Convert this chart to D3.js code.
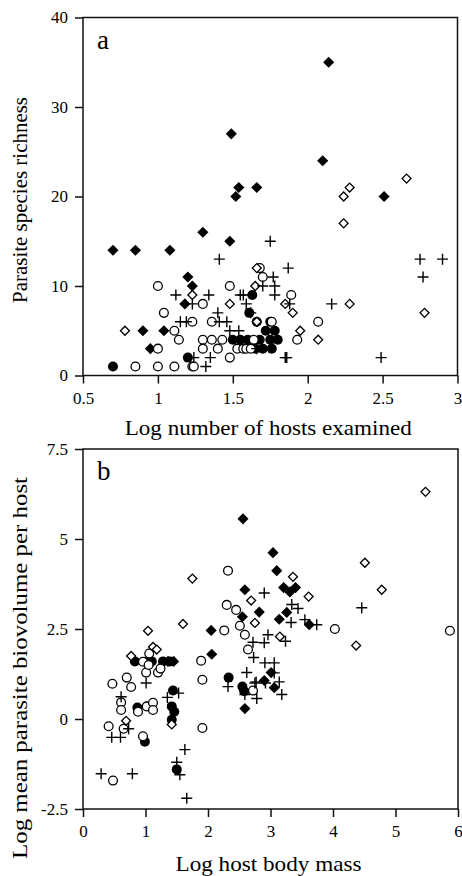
<!DOCTYPE html>
<html>
<head>
<meta charset="utf-8">
<script src="https://cdn.jsdelivr.net/npm/d3@7"></script>
<style>
  body { margin: 0; background: #fff; }
  text { font-family: "Liberation Serif", "Times New Roman", serif; fill: #000; }
</style>
</head>
<body>
<svg id="chart"></svg>
<script>
var width = 462,
    height = 876;

// panel a: log number of hosts examined vs parasite species richness
var filledDiamondA = [[0.70,14],[0.85,14],[1.08,14],[1.30,16],[1.48,15],[1.49,27],[1.54,21],[1.52,20],[1.66,21],
  [2.14,35],[2.10,24],[2.51,20],[1.20,11],[1.23,10],[1.18,8],[0.90,5],[1.04,5],[0.95,3]];
var openDiamondA = [[2.66,22],[2.28,21],[2.24,20],[2.24,17],[2.78,7],[2.28,8],[1.85,8],[1.90,7],[1.95,5],[2.07,4],
  [0.78,5],[1.23,9],[1.48,8],[1.66,12],[1.65,10],[1.66,6]];
var openCircleA = [[1.00,10],[1.04,7],[1.30,8],[1.23,6],[1.11,5],[1.14,4],[1.00,3],[0.85,1],[1.00,1],[1.11,1],
  [1.23,1],[1.24,1],[1.30,4],[1.30,3],[1.36,6],[1.40,3],[1.36,4],[1.43,4],[1.48,10],[1.48,2],[1.53,3],[1.57,3],
  [1.59,3],[1.68,12],[1.70,11],[1.89,9],[2.07,6],[1.93,4],[1.76,6],[1.64,4],[1.62,3]];
var filledCircleA = [[0.70,1],[1.20,2],[1.50,4],[1.55,4],[1.60,4],[1.63,9],[1.61,7],[1.66,6],[1.75,6],[1.72,5],
  [1.78,5],[1.68,4],[1.75,4],[1.80,4],[1.70,3],[1.76,3],[1.65,3]];
var plusA = [[1.75,15],[2.75,13],[2.90,13],[2.77,11],[2.49,2],[1.87,12],[2.16,8],[1.88,8],[1.86,2],[1.77,11],
  [1.78,10],[1.70,10],[1.78,9],[1.12,9],[1.23,8],[1.34,9],[1.41,13],[1.15,6],[1.19,6],[1.40,7],[1.41,6],[1.46,6],
  [1.48,5],[1.54,5],[1.55,9],[1.57,9],[1.59,8],[1.62,7],[1.24,2],[1.32,1],[1.35,2],[1.66,3],[1.85,2]];

// panel b: log host body mass vs log mean parasite biovolume per host
var filledDiamondB = [[2.56,5.56],[2.59,3.59],[2.55,2.84],[2.82,2.97],[2.05,2.46],[2.06,1.80],[2.59,0.29],
  [3.04,4.62],[3.10,4.12],[3.21,3.65],[3.31,3.53],[3.40,3.65],[3.26,2.96],[3.14,2.77],[3.62,2.62],[3.01,1.29],
  [2.90,1.07],[3.06,0.87],[1.45,1.60],[1.36,1.60]];
var openDiamondB = [[5.48,6.31],[4.51,4.34],[4.78,3.59],[1.75,3.90],[2.69,3.29],[2.75,2.67],[1.04,2.45],[1.60,2.64],
  [3.36,3.95],[3.61,3.40],[3.15,2.29],[4.37,2.04],[0.77,1.75],[1.12,2.00],[1.18,1.93],[0.69,-0.05],[1.42,-0.15]];
var openCircleB = [[2.32,4.12],[2.30,3.17],[2.45,3.03],[2.51,2.59],[2.59,2.34],[2.26,2.46],[2.64,1.93],[1.89,1.62],
  [1.91,1.09],[1.91,-0.25],[2.72,0.79],[4.03,2.50],[5.87,2.45],[1.06,1.82],[0.96,1.59],[1.01,1.29],[1.20,1.29],
  [0.70,1.15],[0.77,0.89],[0.47,0.98],[0.61,0.46],[0.61,0.25],[0.88,0.20],[1.02,0.35],[1.12,0.45],[1.12,0.25],
  [0.65,-0.27],[0.41,-0.20],[0.96,-0.48],[0.48,-1.71],[1.05,1.50],[1.24,1.40]];
var filledCircleB = [[2.33,1.15],[2.55,0.90],[2.58,0.77],[0.83,1.60],[1.02,1.60],[1.10,1.60],[1.28,1.60],[1.39,1.60],
  [0.87,0.32],[0.99,-0.63],[1.44,0.79],[1.42,0.35],[1.46,0.20],[1.42,-0.02],[1.50,-1.40]];
var plusB = [[2.72,2.13],[2.32,0.90],[2.62,1.29],[2.59,0.68],[2.75,1.00],[2.78,0.57],[4.46,3.09],[2.90,3.50],
  [3.34,3.18],[3.44,3.07],[3.33,2.68],[3.55,2.76],[3.74,2.62],[2.96,2.34],[3.24,2.16],[2.90,2.12],[2.73,1.71],
  [2.91,1.56],[3.06,1.56],[3.06,1.28],[2.77,1.03],[3.14,1.03],[3.18,0.68],[2.92,1.00],[1.01,1.00],[0.61,0.62],
  [0.73,-0.27],[0.46,-0.51],[0.60,-0.51],[0.29,-1.52],[0.79,-1.52],[1.53,0.72],[1.35,0.60],[1.50,-1.20],
  [1.55,-1.55],[1.63,-0.85],[1.66,-2.20]];

// tick labels
var xTicksA = [0.5, 1, 1.5, 2, 2.5, 3],
    yTicksA = [0, 10, 20, 30, 40],
    xTicksB = [0, 1, 2, 3, 4, 5, 6],
    yTicksB = [-2.5, 0, 2.5, 5, 7.5];

var svg = d3.select("#chart")
    .attr("width", width)
    .attr("height", height);

function panel(cfg) {
  var x = d3.scaleLinear().domain(cfg.xDomain).range([cfg.left, cfg.right]);
  var y = d3.scaleLinear().domain(cfg.yDomain).range([cfg.bottom, cfg.top]);
  var g = svg.append("g");

  var xAxis = d3.axisBottom(x).tickValues(cfg.xTicks).tickSize(8).tickSizeOuter(0)
      .tickPadding(8).tickFormat(String);
  var yAxis = d3.axisLeft(y).tickValues(cfg.yTicks).tickSize(8).tickSizeOuter(0)
      .tickPadding(7).tickFormat(String);

  g.append("g")
      .attr("transform", `translate(0, ${cfg.bottom})`)
      .call(xAxis);
  g.append("g")
      .attr("transform", `translate(${cfg.left}, 0)`)
      .call(yAxis);
  g.selectAll(".domain").remove();
  g.selectAll(".tick line").attr("stroke", "#111").attr("stroke-width", 1.5);
  g.selectAll(".tick text").attr("font-size", 17)
      .attr("font-family", "Liberation Serif, Times New Roman, serif").attr("fill", "#000");

  // frame
  g.append("rect")
      .attr("x", cfg.left).attr("y", cfg.top)
      .attr("width", cfg.right - cfg.left).attr("height", cfg.bottom - cfg.top)
      .attr("fill", "none").attr("stroke", "#111").attr("stroke-width", 1.5);

  var marks = g.append("g");
  var diamond = function(size) {
    return d3.symbol().type(d3.symbolSquare).size(size)();
  };

  marks.selectAll(".fc").data(cfg.filledCircle).enter().append("circle")
      .attr("cx", d => x(d[0])).attr("cy", d => y(d[1])).attr("r", 5)
      .attr("fill", "#000");
  marks.selectAll(".fd").data(cfg.filledDiamond).enter().append("path")
      .attr("d", diamond(62))
      .attr("transform", d => `translate(${x(d[0])},${y(d[1])}) rotate(45)`)
      .attr("fill", "#000");
  marks.selectAll(".oc").data(cfg.openCircle).enter().append("circle")
      .attr("cx", d => x(d[0])).attr("cy", d => y(d[1])).attr("r", 4.4)
      .attr("fill", "#fff").attr("stroke", "#000").attr("stroke-width", 1.3);
  marks.selectAll(".od").data(cfg.openDiamond).enter().append("path")
      .attr("d", diamond(40))
      .attr("transform", d => `translate(${x(d[0])},${y(d[1])}) rotate(45)`)
      .attr("fill", "#fff").attr("stroke", "#000").attr("stroke-width", 1.3);
  marks.selectAll(".pl").data(cfg.plus).enter().append("path")
      .attr("d", d => {
        var px = x(d[0]), py = y(d[1]), s = 5.5;
        return `M${px - s},${py}H${px + s}M${px},${py - s}V${py + s}`;
      })
      .attr("fill", "none").attr("stroke", "#000").attr("stroke-width", 1.4);

  // panel letter
  g.append("text")
      .attr("x", cfg.left + 14).attr("y", cfg.top + 31)
      .attr("font-size", 27)
      .text(cfg.letter);

  // axis titles
  g.append("text")
      .attr("x", (cfg.left + cfg.right) / 2 - 2).attr("y", cfg.bottom + cfg.xTitleDy)
      .attr("text-anchor", "middle")
      .attr("font-size", 21)
      .attr("textLength", cfg.xTitleLen).attr("lengthAdjust", "spacingAndGlyphs")
      .text(cfg.xTitle);
  g.append("text")
      .attr("transform", `translate(27, ${cfg.yTitleCenter}) rotate(-90)`)
      .attr("text-anchor", "middle")
      .attr("font-size", 21)
      .attr("textLength", cfg.yTitleLen).attr("lengthAdjust", "spacingAndGlyphs")
      .text(cfg.yTitle);
}

panel({
  left: 83, right: 457.5, top: 17.5, bottom: 375.5,
  xDomain: [0.5, 3], yDomain: [0, 40],
  xTicks: xTicksA, yTicks: yTicksA,
  filledDiamond: filledDiamondA, openDiamond: openDiamondA,
  openCircle: openCircleA, filledCircle: filledCircleA, plus: plusA,
  letter: "a",
  xTitle: "Log number of hosts examined", xTitleDy: 59, xTitleLen: 287,
  yTitle: "Parasite species richness", yTitleCenter: 200, yTitleLen: 206
});

panel({
  left: 83, right: 458, top: 449, bottom: 809,
  xDomain: [0, 6], yDomain: [-2.5, 7.5],
  xTicks: xTicksB, yTicks: yTicksB,
  filledDiamond: filledDiamondB, openDiamond: openDiamondB,
  openCircle: openCircleB, filledCircle: filledCircleB, plus: plusB,
  letter: "b",
  xTitle: "Log host body mass", xTitleDy: 62, xTitleLen: 186,
  yTitle: "Log mean parasite biovolume per host", yTitleCenter: 668, yTitleLen: 382
});
</script>
</body>
</html>
